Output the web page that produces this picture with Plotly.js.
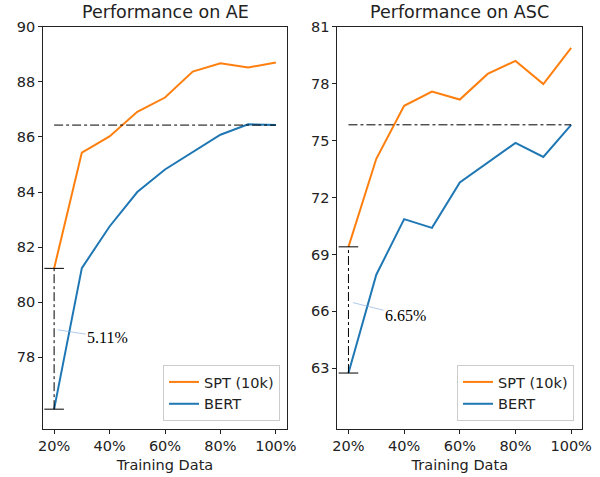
<!DOCTYPE html>
<html><head><meta charset="utf-8">
<script src="https://cdn.plot.ly/plotly-3.0.1.min.js"></script>
<style>html,body{margin:0;padding:0;background:#fff}#chart{width:600px;height:477px}</style>
</head><body><div id="chart"></div>
<script>
const trainPct = [20, 30, 40, 50, 60, 70, 80, 90, 100];
const aeSpt  = [81.23, 85.43, 86.02, 86.91, 87.43, 88.37, 88.67, 88.52, 88.70];
const aeBert = [76.12, 81.24, 82.75, 84.00, 84.82, 85.45, 86.08, 86.46, 86.43];
const ascSpt  = [69.40, 74.04, 76.83, 77.58, 77.16, 78.51, 79.20, 77.98, 79.88];
const ascBert = [62.75, 67.93, 70.86, 70.40, 72.79, 73.83, 74.88, 74.14, 75.83];
const aeTicks = [78, 80, 82, 84, 86, 88, 90];
const ascTicks = [63, 66, 69, 72, 75, 78, 81];
const xTicks = [20, 40, 60, 80, 100];
const xTickText = ['20%', '40%', '60%', '80%', '100%'];
const titles = ['Performance on AE', 'Performance on ASC'];
const gapLabels = ['5.11%', '6.65%'];
const seriesNames = ['SPT (10k)', 'BERT'];

const ORANGE = '#ff7f0e', BLUE = '#1f77b4';
const first = trainPct[0], last = trainPct[trainPct.length - 1];

function panel(spt, bert, xa, ya, leg) {
  const bLast = bert[bert.length - 1];
  return [
    {x: trainPct, y: spt, xaxis: xa, yaxis: ya, mode: 'lines', name: seriesNames[0], legend: leg,
     line: {color: ORANGE, width: 2}},
    {x: trainPct, y: bert, xaxis: xa, yaxis: ya, mode: 'lines', name: seriesNames[1], legend: leg,
     line: {color: BLUE, width: 2}},
    {x: [first, last], y: [bLast, bLast], xaxis: xa, yaxis: ya, mode: 'lines', showlegend: false,
     line: {color: '#000', width: 1, dash: 'dashdot'}},
    {x: [first, first], y: [bert[0], spt[0]], xaxis: xa, yaxis: ya, mode: 'lines+markers', showlegend: false,
     line: {color: '#000', width: 1, dash: 'dashdot'},
     marker: {symbol: 'line-ew', size: 14, line: {color: '#000', width: 1}}}
  ];
}

const data = [].concat(
  panel(aeSpt, aeBert, 'x', 'y', 'legend'),
  panel(ascSpt, ascBert, 'x2', 'y2', 'legend2')
);

const tickFont = {family: 'DejaVu Sans', size: 14.5, color: '#222'};
function xax(domain, anchor) {
  return {domain: domain, anchor: anchor, range: [16, 104], tickmode: 'array', tickvals: xTicks, ticktext: xTickText,
    showgrid: false, zeroline: false, showline: true, mirror: true, linecolor: '#222', linewidth: 1,
    ticks: 'outside', ticklen: 4, tickcolor: '#222', tickfont: tickFont,
    title: {text: 'Training Data', font: tickFont, standoff: 6}};
}
function yax(range, ticks, anchor) {
  return {domain: [0.1006, 0.944], anchor: anchor, range: range, tickmode: 'array', tickvals: ticks,
    showgrid: false, zeroline: false, showline: true, mirror: true, linecolor: '#222', linewidth: 1,
    ticks: 'outside', ticklen: 4, tickcolor: '#222', tickfont: tickFont};
}
const legendBase = {bgcolor: 'rgba(255,255,255,0.8)', bordercolor: '#cccccc', borderwidth: 1,
  font: {family: 'DejaVu Sans', size: 14.5, color: '#222'}, xanchor: 'right', yanchor: 'bottom',
  tracegroupgap: 0, itemwidth: 30};

const layout = {
  width: 600, height: 477, margin: {l: 0, r: 0, t: 0, b: 0},
  paper_bgcolor: '#fff', plot_bgcolor: '#fff', showlegend: true,
  xaxis: xax([0.0717, 0.4783], 'y'),
  yaxis: yax([75.4, 90], aeTicks, 'x'),
  xaxis2: xax([0.5622, 0.9705], 'y2'),
  yaxis2: yax([59.8, 81], ascTicks, 'x2'),
  legend: Object.assign({}, legendBase, {x: 0.4667, y: 0.1174}),
  legend2: Object.assign({}, legendBase, {x: 0.9567, y: 0.1174}),
  annotations: [
    {text: titles[0], xref: 'paper', yref: 'paper', x: 0.275, y: 1 - 12/477, showarrow: false,
     xanchor: 'center', yanchor: 'middle', font: {family: 'DejaVu Sans', size: 17.5, color: '#222'}},
    {text: titles[1], xref: 'paper', yref: 'paper', x: 0.7663, y: 1 - 12/477, showarrow: false,
     xanchor: 'center', yanchor: 'middle', font: {family: 'DejaVu Sans', size: 17.5, color: '#222'}},
    {text: gapLabels[0], xref: 'x', yref: 'y', x: 21.3, y: 79.0, axref: 'x', ayref: 'y', ax: 39.3, ay: 78.72,
     showarrow: true, arrowhead: 0, arrowwidth: 0.6, arrowcolor: '#7aa6e0', standoff: 0,
     font: {family: 'Liberation Serif', size: 16, color: '#000'}},
    {text: gapLabels[1], xref: 'x2', yref: 'y2', x: 21.6, y: 66.46, axref: 'x2', ayref: 'y2', ax: 40.5, ay: 65.77,
     showarrow: true, arrowhead: 0, arrowwidth: 0.6, arrowcolor: '#7aa6e0', standoff: 0,
     font: {family: 'Liberation Serif', size: 16, color: '#000'}}
  ]
};
Plotly.newPlot('chart', data, layout, {displayModeBar: false, staticPlot: true});
</script>
</body></html>
